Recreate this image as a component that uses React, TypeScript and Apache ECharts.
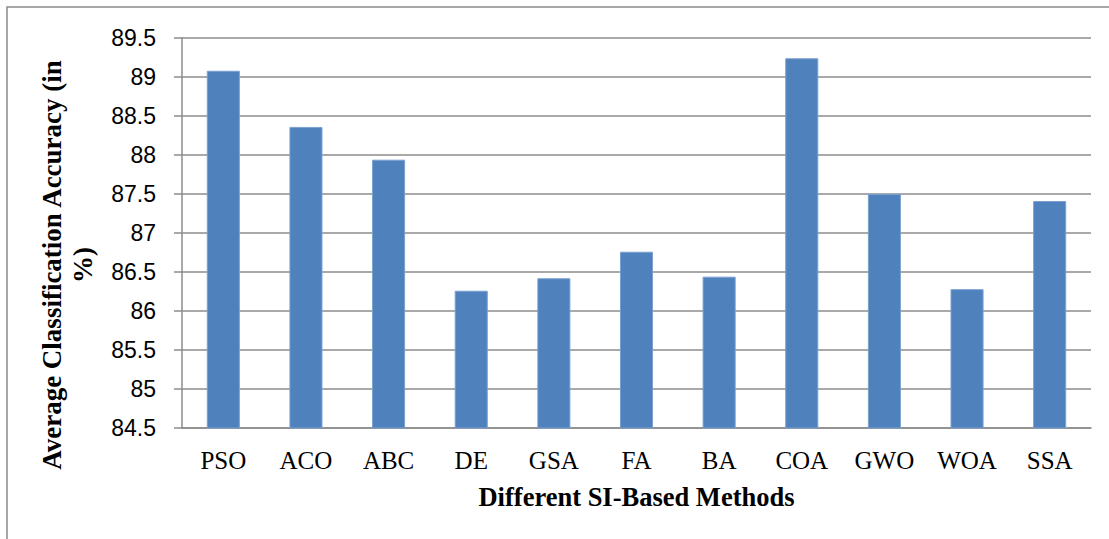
import React, { useEffect, useRef } from "react";
import * as echarts from "echarts";

const categories = ["PSO", "ACO", "ABC", "DE", "GSA", "FA", "BA", "COA", "GWO", "WOA", "SSA"];
const accuracy = [89.08, 88.36, 87.94, 86.26, 86.42, 86.76, 86.44, 89.24, 87.5, 86.28, 87.41];
const yMin = 84.5;
const yMax = 89.5;
const yStep = 0.5;
const xTitle = "Different SI-Based Methods";
const yTitle = "Average Classification Accuracy (in\n%)";

export default function App() {
  const ref = useRef<HTMLDivElement>(null);
  useEffect(() => {
    if (!ref.current) return;
    const chart = echarts.init(ref.current, null, { renderer: "svg" });
    const gray = "#8c8c8c";
    chart.setOption({
      animation: false,
      backgroundColor: "#ffffff",
      grid: { left: 182, right: 18, top: 38, bottom: 111 },
      graphic: [
        {
          type: "rect",
          shape: { x: 7, y: 7, width: 1120, height: 550 },
          style: { fill: "none", stroke: "#8a8a8a", lineWidth: 1.5 },
          silent: true,
        },
        {
          type: "text",
          x: 67,
          y: 265,
          rotation: Math.PI / 2,
          style: {
            text: yTitle,
            font: "bold 27px 'Liberation Serif', serif",
            fill: "#000",
            align: "center",
            verticalAlign: "middle",
            lineHeight: 31,
          },
        },
      ],
      xAxis: {
        type: "category",
        data: categories,
        name: xTitle,
        nameLocation: "middle",
        nameGap: 55,
        nameTextStyle: {
          fontFamily: "'Liberation Serif', serif",
          fontWeight: "bold",
          fontSize: 26.5,
          color: "#000",
        },
        axisLine: { lineStyle: { color: gray, width: 1.5 } },
        axisTick: { show: false },
        axisLabel: {
          margin: 20,
          fontFamily: "'Liberation Serif', serif",
          fontSize: 25,
          color: "#000",
        },
      },
      yAxis: {
        type: "value",
        min: yMin,
        max: yMax,
        interval: yStep,
        axisLine: { show: true, lineStyle: { color: gray, width: 1.5 } },
        axisTick: { show: true, length: 8, lineStyle: { color: gray, width: 1.5 } },
        splitLine: { lineStyle: { color: gray, width: 1.5 } },
        axisLabel: {
          margin: 26,
          fontFamily: "'Liberation Sans', sans-serif",
          fontSize: 23,
          color: "#000",
          formatter: (v: number) => String(Math.round(v * 10) / 10),
        },
      },
      series: [
        {
          type: "bar",
          data: accuracy,
          barWidth: "40%",
          itemStyle: { color: "#4f81bd", borderColor: "#7aa0d0", borderWidth: 1 },
        },
      ],
    });
    return () => chart.dispose();
  }, []);
  return (
    <div
      ref={ref}
      style={{ position: "absolute", left: 0, top: 0, width: 1109, height: 539 }}
    />
  );
}
